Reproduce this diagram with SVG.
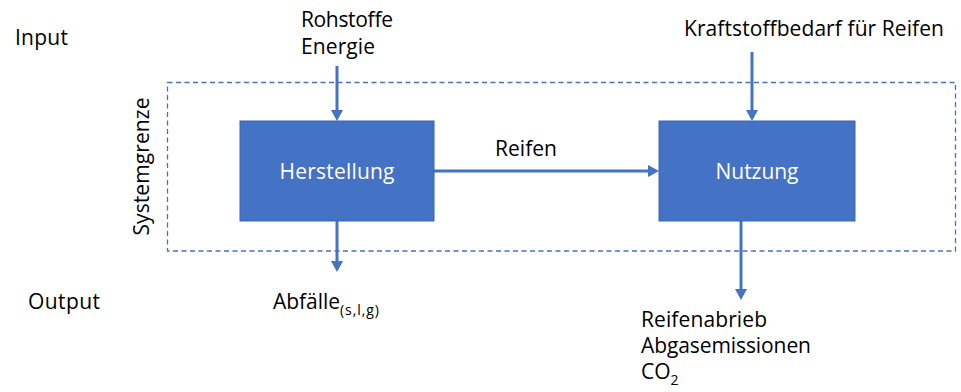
<svg xmlns="http://www.w3.org/2000/svg" width="961" height="392" viewBox="0 0 961 392">
<style>
text{font-family:"Open Sans","Noto Sans","Liberation Sans",sans-serif;font-size:21px;fill:#000}
.w{fill:#fff}
.box{fill:#4472C4;stroke:#3B65B2;stroke-width:1}
.con{stroke:#4472C4;stroke-width:3;fill:none}
.bound{stroke:#4472C4;stroke-width:1.3;fill:none;stroke-dasharray:5 3.5}
</style>
<defs>
<marker id="ah" markerWidth="12" markerHeight="12" refX="5" refY="6" orient="auto" markerUnits="userSpaceOnUse">
<path d="M0,0 L11,6 L0,12 z" fill="#4472C4"/>
</marker>
</defs>
<rect width="961" height="392" fill="#fff"/>
<g id="labels">
<text x="15" y="45" textLength="53">Input</text>
<text x="28" y="309" textLength="72">Output</text>
<text transform="translate(149,166.5) rotate(-90)" text-anchor="middle" textLength="138">Systemgrenze</text>
</g>
<g id="systemgrenze">
<rect class="bound" x="167.5" y="82.5" width="788" height="168.5"/>
</g>
<g id="connectors">
<line class="con" x1="337" y1="66" x2="337" y2="115" marker-end="url(#ah)"/>
<line class="con" x1="752" y1="52" x2="752" y2="115" marker-end="url(#ah)"/>
<line class="con" x1="434" y1="171" x2="653" y2="171" marker-end="url(#ah)"/>
<line class="con" x1="337" y1="221" x2="337" y2="266" marker-end="url(#ah)"/>
<line class="con" x1="741" y1="221" x2="741" y2="294" marker-end="url(#ah)"/>
<text x="495" y="156" textLength="62">Reifen</text>
</g>
<g id="input-herstellung">
<text x="301" y="27" textLength="92">Rohstoffe</text>
<text x="301" y="54" textLength="74">Energie</text>
</g>
<g id="input-nutzung">
<text x="684" y="36" textLength="260">Kraftstoffbedarf für Reifen</text>
</g>
<g id="herstellung">
<rect class="box" x="240" y="121" width="194" height="100"/>
<text class="w" x="337" y="179" text-anchor="middle" textLength="115">Herstellung</text>
</g>
<g id="nutzung">
<rect class="box" x="659" y="121" width="196" height="100"/>
<text class="w" x="757" y="179" text-anchor="middle" textLength="83">Nutzung</text>
</g>
<g id="output-herstellung">
<text x="273" y="309"><tspan textLength="67">Abfälle</tspan><tspan x="340" y="315" font-size="14" textLength="39">(s,l,g)</tspan></text>
</g>
<g id="output-nutzung">
<text x="641" y="327" textLength="126">Reifenabrieb</text>
<text x="641" y="353" textLength="170">Abgasemissionen</text>
<text x="641" y="379">CO<tspan dy="6" font-size="14">2</tspan></text>
</g>
</svg>
